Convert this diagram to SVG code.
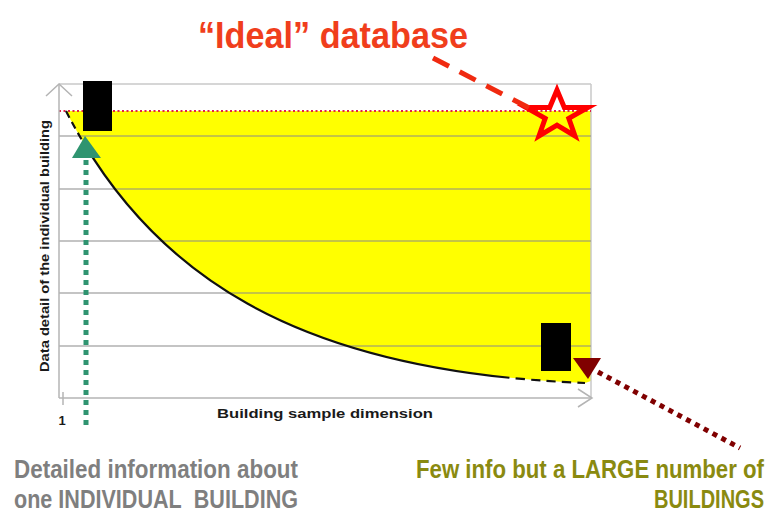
<svg xmlns="http://www.w3.org/2000/svg" width="771" height="513" viewBox="0 0 771 513">
<style>
.grid{stroke:#8a8a8a;stroke-width:1.2;fill:none}
.frame{stroke:#c8c8c8;stroke-width:1.5;fill:none}
.axis{stroke:#b4b4b4;stroke-width:1.5;fill:none}
.lbl{font-family:"Liberation Sans",Arial,sans-serif;font-weight:bold;fill:#1a1a1a}
.big{font-family:"Liberation Sans",Arial,sans-serif;font-weight:bold}
</style>
<rect width="771" height="513" fill="#ffffff"/>
<g id="chart">
  <path d="M66,111 L591,111 L591,381 L585,383 C310,372 155,285 66,111 Z" fill="#ffff00"/>
  <line class="frame" x1="59" y1="84" x2="591" y2="84"/>
  <line class="frame" x1="591" y1="84" x2="591" y2="398"/>
  <g class="grid">
    <line x1="59" y1="136" x2="591" y2="136"/>
    <line x1="59" y1="189" x2="591" y2="189"/>
    <line x1="59" y1="241" x2="591" y2="241"/>
    <line x1="59" y1="293" x2="591" y2="293"/>
    <line x1="59" y1="346" x2="591" y2="346"/>
  </g>
  <line x1="59" y1="111" x2="591" y2="111" stroke="#e0204a" stroke-width="2" stroke-dasharray="2 2.5"/>
  <path d="M66,111 C155,285 310,372 585,383" fill="none" stroke="#111" stroke-width="2.2" pathLength="100" stroke-dasharray="1.2 0.8 1.2 0.8 1.2 0.6 82 1 1.5 1 1.5 1 1.5 1 1.5 1 1.5 1 3 0"/>
  <g class="axis">
    <line x1="59" y1="84" x2="59" y2="398"/>
    <polyline points="46,96 59,84 72,96"/>
    <line x1="59" y1="398" x2="592" y2="398"/>
    <polyline points="578,389 592,398 578,407"/>
    <line x1="63" y1="392" x2="63" y2="405"/>
  </g>
  <text class="lbl" x="62" y="425" font-size="13" text-anchor="middle">1</text>
  <text class="lbl" x="325" y="418" font-size="13.5" text-anchor="middle" textLength="216" lengthAdjust="spacingAndGlyphs">Building sample dimension</text>
  <text class="lbl" transform="translate(49,246) rotate(-90)" font-size="13" text-anchor="middle" textLength="252" lengthAdjust="spacingAndGlyphs">Data detail of the individual building</text>
</g>
<g id="ideal">
  <text class="big" x="198" y="48" font-size="36" fill="#f03e1c" textLength="270" lengthAdjust="spacingAndGlyphs">“Ideal” database</text>
  <polygon points="557,90 564.3,107.5 588,107.5 568.8,118.4 575,136 557,125.1 539,136 545.2,118.4 526,107.5 549.7,107.5" fill="none" stroke="#ff0000" stroke-width="5" stroke-linejoin="miter" stroke-miterlimit="6"/>
</g>
<g id="individual">
  <rect x="83" y="81" width="29" height="50" fill="#000"/>
  <polygon points="85,136 72,158 101,158" fill="#2f9470"/>
  <text class="big" x="14" y="478" font-size="25" fill="#7f7f7f" textLength="284" lengthAdjust="spacingAndGlyphs">Detailed information about</text>
  <text class="big" x="14" y="508" font-size="25" fill="#7f7f7f" textLength="284" lengthAdjust="spacingAndGlyphs" xml:space="preserve">one INDIVIDUAL&#160; BUILDING</text>
</g>
<g id="large">
  <rect x="541" y="323" width="30" height="48" fill="#000"/>
  <polygon points="573,358 601,358 588,379" fill="#800000"/>
  <text class="big" transform="translate(764,478) scale(0.855,1)" font-size="26" fill="#8a8a10" text-anchor="end">Few info but a LARGE number of</text>
  <text class="big" transform="translate(764,508) scale(0.77,1)" font-size="26" fill="#8a8a10" text-anchor="end">BUILDINGS</text>
</g>
<g id="connectors">
  <line x1="433" y1="58" x2="533" y2="110" stroke="#f02a10" stroke-width="5" stroke-dasharray="18 12"/>
  <line x1="86" y1="160" x2="86" y2="430" stroke="#2f9470" stroke-width="5" stroke-dasharray="5 5"/>
  <line x1="598" y1="372" x2="740" y2="448" stroke="#800000" stroke-width="5" stroke-dasharray="5 5"/>
</g>
</svg>
